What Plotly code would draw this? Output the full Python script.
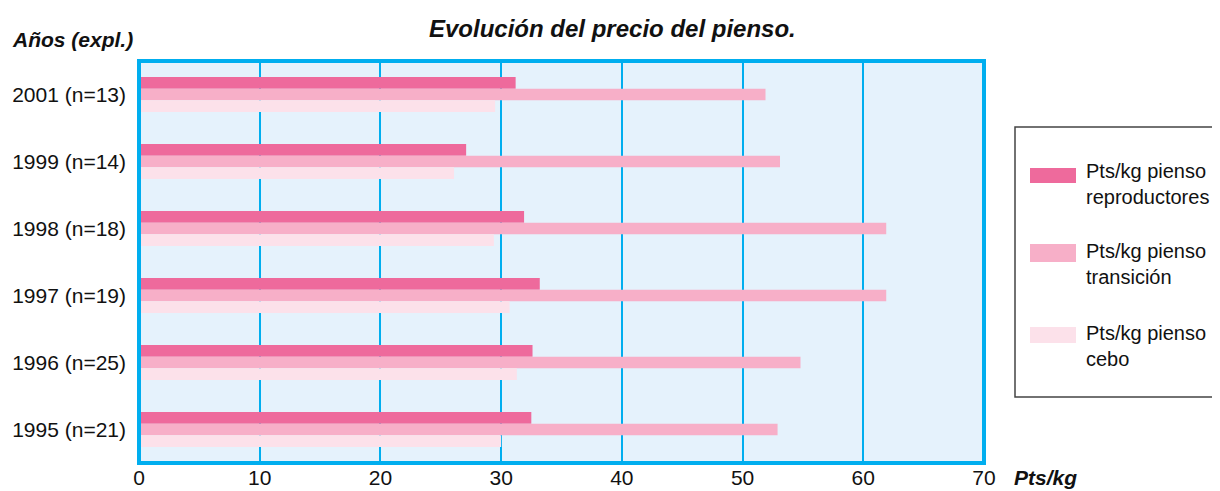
import plotly.graph_objects as go

categories = ["2001 (n=13)", "1999 (n=14)", "1998 (n=18)", "1997 (n=19)", "1996 (n=25)", "1995 (n=21)"]
reproductores = [31.2, 27.1, 31.9, 33.2, 32.6, 32.5]
transicion = [51.9, 53.1, 61.9, 61.9, 54.8, 52.9]
cebo = [29.5, 26.1, 29.4, 30.7, 31.3, 30.0]
x_ticks = [0, 10, 20, 30, 40, 50, 60, 70]

series_names = ["Pts/kg pienso<br>reproductores", "Pts/kg pienso<br>transición", "Pts/kg pienso<br>cebo"]
colors = ["#EE6A9C", "#F7AFC8", "#FCE1EA"]

OFF = 8  # page body margin
W, H = 1220 - OFF, 491 - OFF
# plot-area edges in page pixels
L, R, T, B = 139, 984, 61, 463
FONT = "Liberation Sans, Arial, sans-serif"
CYAN = "#00AEEF"

def px(x):
    return (x - L) / (R - L)

def py(y):
    return (B - y) / (B - T)

fig = go.Figure()
for name, vals, col in zip(series_names, [reproductores, transicion, cebo], colors):
    fig.add_trace(go.Bar(y=categories, x=vals, orientation="h", name=name,
                         marker=dict(color=col, line=dict(width=0)), showlegend=False))

fig.update_layout(
    width=W, height=H,
    margin=dict(l=L - OFF, r=W - (R - OFF), t=T - OFF, b=H - (B - OFF), pad=0, autoexpand=False),
    paper_bgcolor="white", plot_bgcolor="#E5F2FC",
    barmode="group", bargap=0.48, bargroupgap=0,
    font=dict(family=FONT, size=21, color="#111"),
)
fig.update_xaxes(range=[0, 70], tickvals=x_ticks, ticktext=[str(v) for v in x_ticks],
                 showgrid=True, gridcolor=CYAN, gridwidth=1.5, zeroline=False, automargin=False,
                 ticks="", tickfont=dict(family=FONT, size=21, color="#111"), ticklabelstandoff=0)
fig.update_yaxes(autorange="reversed", showgrid=False, ticks="", ticklen=0, automargin=False,
                 tickfont=dict(family=FONT, size=21, color="#111"), ticklabelstandoff=12)

# plot border
fig.add_shape(type="rect", xref="paper", yref="paper", x0=0, x1=1, y0=0, y1=1,
              line=dict(color=CYAN, width=4), layer="above")

# legend box
fig.add_shape(type="rect", xref="paper", yref="paper", x0=px(1015), x1=px(1235),
              y0=py(397), y1=py(127), line=dict(color="#444", width=1.5), fillcolor="white")
sw_y = [(168, 183), (244, 262), (327, 343)]
txt_y = [184, 264, 346]
for (y0, y1), ty, name, col in zip(sw_y, txt_y, series_names, colors):
    fig.add_shape(type="rect", xref="paper", yref="paper", x0=px(1030), x1=px(1076),
                  y0=py(y1), y1=py(y0), line=dict(width=0), fillcolor=col)
    fig.add_annotation(xref="paper", yref="paper", x=px(1084), y=py(ty), text=name,
                       showarrow=False, xanchor="left", yanchor="middle", align="left",
                       font=dict(family=FONT, size=20, color="#111"))

fig.add_annotation(xref="paper", yref="paper", x=px(612), y=py(28),
                   text="<b><i>Evolución del precio del pienso.</i></b>", showarrow=False,
                   xanchor="center", yanchor="middle", font=dict(family=FONT, size=24, color="#111"))
fig.add_annotation(xref="paper", yref="paper", x=px(10), y=py(40),
                   text="<b><i>Años (expl.)</i></b>", showarrow=False,
                   xanchor="left", yanchor="middle", font=dict(family=FONT, size=21, color="#111"))
fig.add_annotation(xref="paper", yref="paper", x=px(1012), y=py(477),
                   text="<b><i>Pts/kg</i></b>", showarrow=False,
                   xanchor="left", yanchor="middle", font=dict(family=FONT, size=21, color="#111"))

fig.write_html("out.html")
